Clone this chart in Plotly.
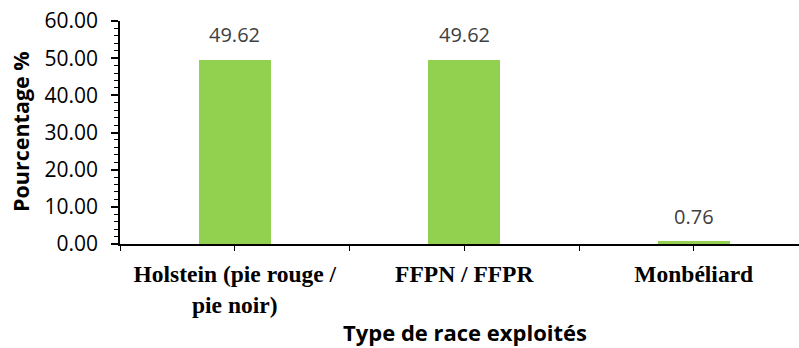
import plotly.graph_objects as go

categories = ["Holstein (pie rouge /<br>pie noir)", "FFPN / FFPR", "Monbéliard"]
values = [49.62, 49.62, 0.76]
y_ticks = [0, 10, 20, 30, 40, 50, 60]

x_pos = list(range(len(categories)))

fig = go.Figure()
fig.add_trace(go.Bar(
    x=x_pos, y=values, width=0.314,
    marker=dict(color="#92D050", line=dict(width=0)),
    hoverinfo="skip",
))

for xi, v in zip(x_pos, values):
    fig.add_annotation(
        x=xi, y=v, xref="x", yref="y", text=f"{v:.2f}", showarrow=False,
        yanchor="middle", yshift=25,
        font=dict(family="Open Sans", size=20, color="#404040"),
    )

tickvals = []
ticktext = []
for i, c in enumerate(categories):
    tickvals += [i - 0.5, i]
    ticktext += ["", c]

fig.update_layout(
    width=799, height=348,
    margin=dict(l=120, r=0, t=21, b=104),
    paper_bgcolor="white", plot_bgcolor="white",
    showlegend=False,
    bargap=0,
    xaxis=dict(
        range=[-0.5, -0.5 + 679 / 229.5],
        tickmode="array", tickvals=tickvals, ticktext=ticktext,
        ticks="outside", ticklen=5, tickcolor="black", tickwidth=1.3,
        showline=True, linecolor="black", linewidth=1.5,
        showgrid=False, zeroline=False,
        tickfont=dict(family="Liberation Serif", size=23.5, color="black", weight="bold"),
        ticklabelstandoff=3,
    ),
    yaxis=dict(
        range=[0, 60], tickmode="array", tickvals=y_ticks,
        ticktext=[f"{t:.2f}" for t in y_ticks],
        ticks="outside", ticklen=7, tickcolor="black", tickwidth=1.5,
        minor=dict(dtick=2, ticks="outside", ticklen=4, tickcolor="black", tickwidth=1.3, showgrid=False),
        showline=True, linecolor="black", linewidth=1.5,
        showgrid=False, zeroline=False,
        tickfont=dict(family="Open Sans", size=21, color="black"),
        ticklabelstandoff=9,
    ),
)

fig.add_annotation(
    x=(465 - 120) / 679, y=-(332 - 244) / 223, xref="paper", yref="paper",
    text="<b>Type de race exploités</b>", showarrow=False,
    xanchor="center", yanchor="middle", borderpad=0,
    font=dict(family="Open Sans", size=22, color="black"),
)
fig.add_annotation(
    x=(20 - 120) / 679, y=(244 - 132) / 223, xref="paper", yref="paper",
    text="<b>Pourcentage %</b>", showarrow=False, textangle=-90,
    xanchor="center", yanchor="middle",
    font=dict(family="Open Sans", size=21.5, color="black"),
)

fig.write_html("out.html", config={"displayModeBar": False},
               post_script="document.body.style.margin='0';")
